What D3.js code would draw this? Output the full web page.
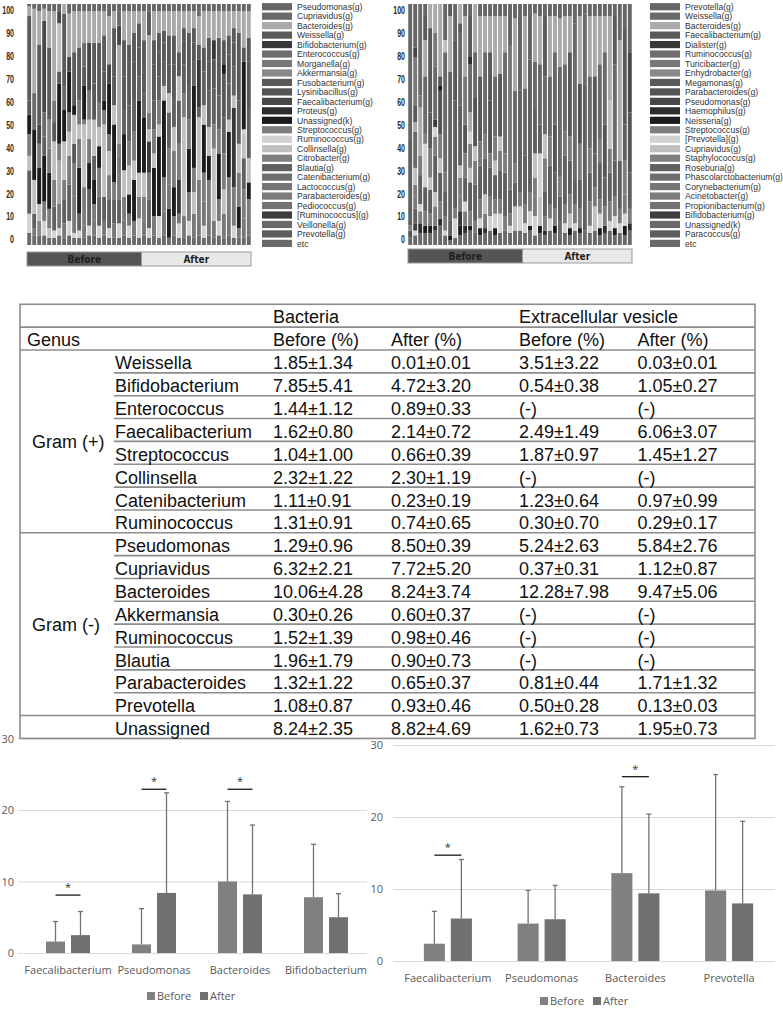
<!DOCTYPE html>
<html>
<head>
<meta charset="utf-8">
<script src="https://cdn.jsdelivr.net/npm/d3@7"></script>
<style>
  body { margin: 0; background: #fff; }
  svg { display: block; }
</style>
</head>
<body>
<svg id="fig" width="783" height="1009"></svg>
<script>
// ---------------- data ----------------
// grey shades of the legend swatches, by legend position
const grayPalette = ["#666666","#6a6a6a","#aaaaaa","#5a5a5a","#383838","#6e6e6e","#787878","#888888",
  "#595959","#555555","#474747","#2d2d2d","#1c1c1c","#7d7d7d","#d2d2d2","#c0c0c0","#7e7e7e","#606060",
  "#6e6e6e","#747474","#7c7c7c","#727272","#3e3e3e","#696969","#5c5c5c","#6a6a6a"];

const genusLeft = ["Pseudomonas(g)","Cupriavidus(g)","Bacteroides(g)","Weissella(g)","Bifidobacterium(g)",
  "Enterococcus(g)","Morganella(g)","Akkermansia(g)","Fusobacterium(g)","Lysinibacillus(g)","Faecalibacterium(g)",
  "Proteus(g)","Unassigned(k)","Streptococcus(g)","Ruminococcus(g)","Collinsella(g)","Citrobacter(g)","Blautia(g)",
  "Catenibacterium(g)","Lactococcus(g)","Parabacteroides(g)","Pediococcus(g)","[Ruminococcus](g)","Veillonella(g)",
  "Prevotella(g)","etc"];

const genusRight = ["Prevotella(g)","Weissella(g)","Bacteroides(g)","Faecalibacterium(g)","Dialister(g)",
  "Ruminococcus(g)","Turicibacter(g)","Enhydrobacter(g)","Megamonas(g)","Parabacteroides(g)","Pseudomonas(g)",
  "Haemophilus(g)","Neisseria(g)","Streptococcus(g)","[Prevotella](g)","Cupriavidus(g)","Staphylococcus(g)",
  "Roseburia(g)","Phascolarctobacterium(g)","Corynebacterium(g)","Acinetobacter(g)","Propionibacterium(g)",
  "Bifidobacterium(g)","Unassigned(k)","Paracoccus(g)","etc"];

const stackTicks = [0,10,20,30,40,50,60,70,80,90,100];
const periods = ["Before","After"];
const nBeforeLeft = 23;
const nBeforeRight = 23;

// per sample: [genus index, percent], read bottom to top
const samplesLeft = [
  [[25,5],[14,8],[17,18],[15,6],[20,9],[12,8],[8,6],[3,35],[2,4],[0,1]],
  [[25,4],[6,3],[17,6],[15,14],[12,21],[1,15],[2,35],[0,2]],
  [[25,4],[7,6],[15,7],[12,15],[20,10],[10,8],[3,33],[2,14],[0,3]],
  [[25,4],[14,6],[6,8],[12,19],[17,8],[1,10],[10,38],[2,5],[0,2]],
  [[25,3],[15,4],[20,8],[12,15],[6,10],[7,12],[3,30],[2,15],[0,3]],
  [[25,3],[14,3],[17,10],[20,11],[15,16],[8,8],[6,9],[2,37],[0,3]],
  [[25,4],[14,3],[6,10],[2,18],[13,7],[12,25],[8,5],[15,20],[10,5],[0,3]],
  [[25,3],[6,6],[17,10],[20,8],[15,16],[12,13],[1,10],[3,30],[2,4]],
  [[25,4],[14,6],[17,15],[20,12],[15,10],[13,8],[12,17],[10,6],[2,18],[0,4]],
  [[25,3],[14,2],[6,15],[20,14],[8,8],[15,12],[12,4],[3,22],[2,17],[0,3]],
  [[25,3],[14,3],[17,7],[12,19],[20,12],[15,6],[6,10],[3,22],[2,15],[0,3]],
  [[25,3],[6,5],[20,16],[15,26],[13,2],[12,14],[8,8],[1,10],[2,13],[0,3]],
  [[25,4],[14,4],[17,15],[12,11],[20,10],[15,8],[6,12],[10,20],[2,13],[0,3]],
  [[25,4],[6,6],[20,7],[12,10],[17,10],[15,15],[8,15],[3,17],[2,13],[0,3]],
  [[25,3],[14,5],[17,12],[20,12],[12,9],[15,8],[6,10],[3,25],[2,13],[0,3]],
  [[25,4],[6,6],[17,10],[15,30],[20,6],[12,4],[8,12],[3,15],[2,10],[0,3]],
  [[25,3],[14,4],[17,12],[20,10],[15,10],[6,7],[12,21],[10,8],[2,20],[0,5]],
  [[25,3],[6,6],[17,10],[20,7],[12,24],[15,8],[8,12],[3,20],[2,7],[0,3]],
  [[25,3],[14,6],[17,10],[20,10],[6,8],[13,5],[2,41],[10,8],[1,6],[0,3]],
  [[25,4],[6,6],[20,10],[15,11],[12,15],[17,10],[8,14],[3,15],[2,12],[0,3]],
  [[25,3],[14,5],[6,5],[12,8],[15,12],[20,10],[17,15],[3,25],[2,14],[0,3]],
  [[25,4],[6,6],[12,17],[15,8],[20,12],[17,14],[8,15],[3,12],[2,9],[0,3]],
  [[25,3],[14,8],[20,9],[15,10],[12,30],[17,10],[8,12],[3,10],[2,5],[0,3]],
  [[25,4],[6,6],[20,10],[15,10],[12,23],[17,10],[8,10],[3,12],[2,12],[0,3]],
  [[25,3],[14,4],[17,12],[20,11],[4,13],[15,5],[6,7],[2,32],[3,10],[0,3]],
  [[25,4],[6,8],[12,20],[15,6],[20,10],[17,12],[8,15],[3,10],[2,12],[0,3]],
  [[25,3],[14,9],[12,33],[15,5],[20,10],[17,10],[8,10],[3,8],[2,9],[0,3]],
  [[25,4],[6,10],[20,14],[12,32],[15,6],[17,10],[8,8],[3,5],[2,8],[0,3]],
  [[25,3],[12,12],[6,10],[20,15],[17,15],[15,8],[8,12],[3,12],[2,10],[0,3]],
  [[25,4],[6,8],[12,12],[20,15],[15,10],[17,12],[8,14],[3,12],[2,10],[0,3]],
  [[25,3],[14,6],[6,4],[4,14],[20,15],[17,18],[15,10],[8,10],[2,17],[0,3]],
  [[25,3],[6,9],[15,41],[20,10],[17,12],[8,10],[3,5],[2,7],[0,3]],
  [[25,4],[14,6],[6,12],[12,18],[20,12],[17,14],[8,12],[3,10],[2,9],[0,3]],
  [[25,3],[6,10],[15,9],[20,10],[12,34],[17,10],[8,8],[3,6],[2,7],[0,3]],
  [[25,4],[6,8],[20,15],[15,26],[17,4],[4,20],[8,6],[2,12],[1,2],[0,3]],
  [[25,3],[14,5],[6,10],[20,12],[12,20],[15,8],[17,14],[8,10],[2,15],[0,3]],
  [[25,4],[6,8],[20,15],[12,10],[15,12],[17,15],[8,12],[3,10],[2,11],[0,3]],
  [[25,3],[6,7],[15,30],[20,10],[17,15],[8,12],[4,8],[2,12],[0,3]],
  [[25,4],[14,6],[6,9],[12,19],[20,10],[17,14],[8,14],[3,10],[2,11],[0,3]],
  [[25,3],[6,10],[15,10],[20,15],[17,15],[8,18],[12,4],[3,10],[2,12],[0,3]],
  [[25,4],[6,8],[20,16],[12,19],[15,5],[17,15],[8,12],[3,8],[2,10],[0,3]],
  [[25,3],[14,5],[20,16],[4,33],[15,5],[17,12],[8,10],[3,6],[2,7],[0,3]],
  [[25,3],[6,4],[12,9],[20,14],[15,12],[17,18],[8,18],[3,10],[2,9],[0,3]],
  [[25,3],[6,8],[20,12],[17,13],[15,10],[14,2],[12,28],[8,6],[2,15],[0,3]],
  [[25,4],[6,8],[20,7],[12,7],[15,10],[17,20],[8,20],[3,10],[2,11],[0,3]]
];

const samplesRight = [
  [[25,3],[9,3],[20,2],[17,36],[0,56]],
  [[25,4],[14,2],[22,3],[17,6],[20,5],[13,5],[15,7],[1,15],[2,4],[3,7],[6,20],[10,4],[0,18]],
  [[25,5],[11,4],[20,5],[14,3],[17,12],[13,8],[2,20],[6,5],[1,38]],
  [[25,5],[12,3],[20,6],[17,10],[14,18],[13,4],[1,24],[2,15],[3,10],[0,5]],
  [[25,5],[12,3],[20,5],[17,10],[15,5],[13,12],[8,15],[3,35],[2,10]],
  [[25,6],[11,2],[20,8],[15,6],[17,15],[13,8],[14,4],[4,3],[1,22],[6,14],[2,12]],
  [[25,8],[11,3],[20,7],[17,12],[15,6],[13,10],[9,18],[12,2],[8,4],[2,30]],
  [[25,4],[14,2],[20,6],[17,10],[6,8],[1,50],[15,5],[0,15]],
  [[25,2],[12,2],[17,6],[0,62],[2,23],[3,5]],
  [[25,3],[14,8],[20,4],[17,45],[3,25],[0,15]],
  [[25,4],[12,4],[4,6],[20,6],[13,8],[15,5],[17,25],[1,30],[3,4],[2,8]],
  [[25,5],[11,3],[20,6],[14,4],[17,10],[13,10],[9,12],[6,20],[2,25],[0,5]],
  [[25,6],[12,2],[20,6],[17,12],[15,6],[13,10],[14,5],[2,8],[1,20],[11,3],[3,17],[0,5]],
  [[25,5],[20,5],[17,15],[13,10],[15,6],[9,20],[1,19],[2,20]],
  [[25,4],[12,3],[14,4],[20,8],[17,14],[6,10],[3,27],[2,25],[0,5]],
  [[25,5],[11,2],[20,6],[15,8],[17,15],[13,10],[1,34],[2,15],[0,5]],
  [[25,6],[14,6],[20,8],[17,12],[13,6],[9,22],[3,20],[2,15],[0,5]],
  [[25,4],[12,3],[14,6],[20,6],[17,10],[15,6],[13,10],[1,25],[2,25],[0,5]],
  [[25,5],[14,8],[20,6],[17,12],[13,8],[15,6],[3,26],[2,24],[0,5]],
  [[25,6],[20,6],[17,18],[13,8],[1,42],[2,15],[0,5]],
  [[25,5],[14,3],[20,5],[17,10],[6,60],[0,17]],
  [[25,6],[15,10],[17,10],[13,8],[1,30],[2,30],[0,6]],
  [[25,6],[14,10],[20,6],[17,42],[0,36]],
  [[25,5],[14,4],[20,8],[17,20],[1,28],[2,30],[0,5]],
  [[25,6],[12,2],[14,6],[20,8],[17,55],[0,23]],
  [[25,4],[14,8],[20,8],[13,8],[15,10],[17,18],[1,20],[2,20],[0,4]],
  [[25,5],[12,3],[15,12],[14,18],[17,12],[1,25],[2,20],[0,5]],
  [[25,4],[11,2],[20,6],[17,10],[13,14],[15,10],[1,24],[3,25],[0,5]],
  [[25,6],[14,5],[20,6],[17,16],[13,12],[1,25],[2,25],[0,5]],
  [[25,5],[12,3],[20,7],[17,15],[9,20],[1,30],[2,15],[0,5]],
  [[25,10],[17,10],[13,8],[1,46],[2,20],[0,6]],
  [[25,5],[14,4],[20,8],[17,20],[6,10],[1,28],[2,20],[0,5]],
  [[25,4],[12,3],[15,6],[20,8],[17,14],[13,10],[3,35],[2,15],[0,5]],
  [[25,6],[14,3],[20,8],[17,10],[1,65],[0,8]],
  [[25,5],[12,2],[20,8],[17,12],[13,15],[9,25],[2,28],[0,5]],
  [[25,6],[17,60],[1,30],[0,4]],
  [[25,5],[14,3],[20,10],[17,12],[13,10],[1,30],[2,25],[0,5]],
  [[25,6],[15,10],[20,8],[17,14],[3,32],[2,25],[0,5]],
  [[25,4],[12,3],[14,6],[20,6],[17,15],[13,10],[1,31],[2,20],[0,5]],
  [[25,5],[11,3],[20,8],[17,12],[9,22],[1,30],[2,15],[0,5]],
  [[25,6],[14,4],[20,8],[17,12],[13,10],[15,20],[2,35],[0,5]],
  [[25,4],[12,3],[14,5],[20,8],[17,15],[1,40],[3,20],[0,5]],
  [[25,5],[14,4],[20,6],[17,20],[2,50],[1,10],[0,5]],
  [[25,4],[12,4],[14,5],[20,8],[13,14],[17,15],[3,40],[0,10]],
  [[25,6],[11,3],[20,6],[17,15],[9,25],[10,25],[0,20]]
];

// table
const tableHead1 = ["", "", "Bacteria", "", "Extracellular vesicle", ""];
const tableHead2 = ["Genus", "", "Before (%)", "After (%)", "Before (%)", "After (%)"];
const gramGroups = [["Gram (+)", 0, 8], ["Gram (-)", 8, 16]];
const tableRows = [
  ["Weissella", "1.85±1.34", "0.01±0.01", "3.51±3.22", "0.03±0.01"],
  ["Bifidobacterium", "7.85±5.41", "4.72±3.20", "0.54±0.38", "1.05±0.27"],
  ["Enterococcus", "1.44±1.12", "0.89±0.33", "(-)", "(-)"],
  ["Faecalibacterium", "1.62±0.80", "2.14±0.72", "2.49±1.49", "6.06±3.07"],
  ["Streptococcus", "1.04±1.00", "0.66±0.39", "1.87±0.97", "1.45±1.27"],
  ["Collinsella", "2.32±1.22", "2.30±1.19", "(-)", "(-)"],
  ["Catenibacterium", "1.11±0.91", "0.23±0.19", "1.23±0.64", "0.97±0.99"],
  ["Ruminococcus", "1.31±0.91", "0.74±0.65", "0.30±0.70", "0.29±0.17"],
  ["Pseudomonas", "1.29±0.96", "8.50±0.39", "5.24±2.63", "5.84±2.76"],
  ["Cupriavidus", "6.32±2.21", "7.72±5.20", "0.37±0.31", "1.12±0.87"],
  ["Bacteroides", "10.06±4.28", "8.24±3.74", "12.28±7.98", "9.47±5.06"],
  ["Akkermansia", "0.30±0.26", "0.60±0.37", "(-)", "(-)"],
  ["Ruminococcus", "1.52±1.39", "0.98±0.46", "(-)", "(-)"],
  ["Blautia", "1.96±1.79", "0.90±0.73", "(-)", "(-)"],
  ["Parabacteroides", "1.32±1.22", "0.65±0.37", "0.81±0.44", "1.71±1.32"],
  ["Prevotella", "1.08±0.87", "0.93±0.46", "0.50±0.28", "0.13±0.03"],
  ["Unassigned", "8.24±2.35", "8.82±4.69", "1.62±0.73", "1.95±0.73"]
];

// bottom bar charts (bar height and error bar length)
const barTicks = [0, 10, 20, 30];
const barGenusLeft = ["Faecalibacterium", "Pseudomonas", "Bacteroides", "Bifidobacterium"];
const beforeLeft = [1.6, 1.2, 10.0, 7.8];
const afterLeft = [2.5, 8.4, 8.2, 5.0];
const beforeErrLeft = [2.8, 5.0, 11.2, 7.4];
const afterErrLeft = [3.3, 14.0, 9.7, 3.3];
const sigLeft = [["Faecalibacterium", 8.1], ["Pseudomonas", 22.9], ["Bacteroides", 22.9]];

const barGenusRight = ["Faecalibacterium", "Pseudomonas", "Bacteroides", "Prevotella"];
const beforeRight = [2.4, 5.2, 12.2, 9.8];
const afterRight = [5.9, 5.8, 9.4, 8.0];
const beforeErrRight = [4.5, 4.6, 12.0, 16.1];
const afterErrRight = [8.2, 4.7, 11.0, 11.4];
const sigRight = [["Faecalibacterium", 14.7], ["Bacteroides", 25.6]];

// ---------------- drawing ----------------
const svg = d3.select("#fig");
svg.append("rect").attr("width", 783).attr("height", 1009).attr("fill", "#fff");

const narrow = "'Liberation Sans Narrow', 'DejaVu Sans Condensed', 'Liberation Sans', sans-serif";
const arial = "'Liberation Sans', Arial, sans-serif";
const excel = "'Open Sans', 'Noto Sans', sans-serif";

function stackChart(samples, genus, nBefore, x0, x1, labelRight, legendX, boxY) {
  const g = svg.append("g");
  const x = d3.scaleBand().domain(d3.range(samples.length)).range([x0, x1]).paddingInner(0.22).paddingOuter(0.05);
  const y = d3.scaleLinear().domain([0, 100]).range([245, 4]);

  samples.forEach((segs, i) => {
    const tops = Array.from(d3.cumsum(segs, s => s[1]));
    g.append("g").selectAll("rect").data(segs).join("rect")
      .attr("x", x(i))
      .attr("width", x.bandwidth())
      .attr("y", (s, j) => y(tops[j]))
      .attr("height", (s, j) => y(tops[j] - s[1]) - y(tops[j]))
      .attr("fill", s => grayPalette[s[0]]);
  });

  // y labels (no axis line), squeezed like the condensed original
  const yl = d3.scaleLinear().domain([0, 100]).range([239.5, 10.5]);
  const ax = svg.append("g").attr("transform", `translate(${labelRight},0)`)
    .call(d3.axisLeft(yl).tickValues(stackTicks).tickSize(0).tickPadding(0));
  ax.select(".domain").remove();
  ax.selectAll("text").attr("font-family", arial).attr("font-weight", "bold")
    .attr("font-size", 10.5).attr("fill", "#2a2a2a")
    .attr("textLength", d => String(d).length * 3.9).attr("lengthAdjust", "spacingAndGlyphs");

  // Before / After strip
  const strip = d3.scaleLinear().domain([0, samples.length]).range([x0, x1]);
  const parts = [[periods[0], 0, nBefore, "#555555"], [periods[1], nBefore, samples.length, "#e8e8e8"]];
  const sg = svg.append("g");
  sg.selectAll("rect").data(parts).join("rect")
    .attr("x", d => strip(d[1])).attr("width", d => strip(d[2]) - strip(d[1]))
    .attr("y", boxY).attr("height", 14)
    .attr("fill", d => d[3]).attr("stroke", "#9a9a9a").attr("stroke-width", 1);
  sg.selectAll("text").data(parts).join("text")
    .attr("x", d => (strip(d[1]) + strip(d[2])) / 2).attr("y", boxY + 10.5)
    .attr("text-anchor", "middle").attr("font-family", narrow).attr("font-weight", "bold")
    .attr("font-size", 10).attr("fill", "#1e1e1e").text(d => d[0]);

  // legend
  const ly = d3.scaleLinear().domain([0, genus.length - 1]).range([6.7, 243.4]);
  const lg = svg.append("g");
  lg.selectAll("rect").data(genus).join("rect")
    .attr("x", legendX).attr("width", 30)
    .attr("y", (d, i) => ly(i) - 3.6).attr("height", 7.2)
    .attr("fill", (d, i) => grayPalette[i]);
  lg.selectAll("text").data(genus).join("text")
    .attr("x", legendX + 35).attr("y", (d, i) => ly(i) + 3.2)
    .attr("font-family", arial).attr("font-size", 8.6).attr("fill", "#333")
    .text(d => d);
}

stackChart(samplesLeft, genusLeft, nBeforeLeft, 27, 251, 14, 262, 252);
stackChart(samplesRight, genusRight, nBeforeRight, 408, 632, 405, 650, 249);

function barChart(o) {
  const g = svg.append("g");
  const x = d3.scaleBand().domain(o.genus).range(o.xr);
  const y = d3.scaleLinear().domain([0, 30]).range(o.yr);
  const xs = d3.scaleBand().domain(periods)
    .range([x.bandwidth() / 2 - o.step, x.bandwidth() / 2 + o.step])
    .paddingInner(o.pad).paddingOuter(o.pad / 2);

  const ax = g.append("g").attr("transform", `translate(${o.plot[0]},0)`)
    .call(d3.axisLeft(y).tickValues(barTicks).tickSize(-(o.plot[1] - o.plot[0])).tickPadding(o.labelPad));
  ax.select(".domain").remove();
  ax.selectAll("line").attr("stroke", "#d9d9d9").attr("stroke-width", 1);
  ax.selectAll("text").attr("font-family", excel).attr("font-size", 11).attr("fill", "#595959");

  const rows = o.genus.map((k, i) => ({ k, vals: [[periods[0], o.before[i], o.beforeErr[i]], [periods[1], o.after[i], o.afterErr[i]]] }));
  const fills = { Before: "#808080", After: "#707070" };
  const grp = g.selectAll("g.genus").data(rows).join("g").attr("class", "genus")
    .attr("transform", d => `translate(${x(d.k)},0)`);
  grp.selectAll("rect").data(d => d.vals).join("rect")
    .attr("x", d => xs(d[0])).attr("width", xs.bandwidth())
    .attr("y", d => y(d[1])).attr("height", d => y(0) - y(d[1]))
    .attr("fill", d => fills[d[0]]);
  // error bars (upper only)
  grp.selectAll("line.err").data(d => d.vals).join("line").attr("class", "err")
    .attr("x1", d => xs(d[0]) + xs.bandwidth() / 2).attr("x2", d => xs(d[0]) + xs.bandwidth() / 2)
    .attr("y1", d => y(d[1])).attr("y2", d => y(d[1] + d[2]))
    .attr("stroke", "#737373").attr("stroke-width", 1.3);
  grp.selectAll("line.cap").data(d => d.vals).join("line").attr("class", "cap")
    .attr("x1", d => xs(d[0]) + xs.bandwidth() / 2 - 2.5).attr("x2", d => xs(d[0]) + xs.bandwidth() / 2 + 2.5)
    .attr("y1", d => y(d[1] + d[2])).attr("y2", d => y(d[1] + d[2]))
    .attr("stroke", "#737373").attr("stroke-width", 1.3);

  // category labels
  g.selectAll("text.cat").data(o.genus).join("text").attr("class", "cat")
    .attr("x", d => x(d) + x.bandwidth() / 2).attr("y", o.catY)
    .attr("text-anchor", "middle").attr("font-family", excel).attr("font-size", 11).attr("fill", "#595959")
    .text(d => d);

  // significance marks
  const cx = (k, p) => x(k) + xs(p) + xs.bandwidth() / 2;
  const sg = g.selectAll("g.sig").data(o.sig).join("g").attr("class", "sig");
  sg.append("line")
    .attr("x1", d => cx(d[0], periods[0])).attr("x2", d => cx(d[0], periods[1]))
    .attr("y1", d => y(d[1])).attr("y2", d => y(d[1]))
    .attr("stroke", "#1a1a1a").attr("stroke-width", 1.3);
  sg.append("text")
    .attr("x", d => (cx(d[0], periods[0]) + cx(d[0], periods[1])) / 2).attr("y", d => y(d[1]) - 4)
    .attr("text-anchor", "middle").attr("font-family", excel).attr("font-size", 11).attr("fill", "#333")
    .text("*");

  // legend
  const lx = d3.scalePoint().domain(periods).range([o.legendX, o.legendX + 53]);
  const lg = g.selectAll("g.leg").data(periods).join("g").attr("class", "leg")
    .attr("transform", d => `translate(${lx(d)},${o.legendY})`);
  lg.append("rect").attr("x", 0).attr("y", -8).attr("width", 8).attr("height", 8).attr("fill", d => fills[d]);
  lg.append("text").attr("x", 10).attr("y", 0).attr("font-family", excel).attr("font-size", 11)
    .attr("fill", "#595959").text(d => d);
}

barChart({
  genus: barGenusLeft, before: beforeLeft, after: afterLeft, beforeErr: beforeErrLeft, afterErr: afterErrLeft,
  sig: sigLeft, xr: [25, 369], yr: [953, 738.5], step: 25, pad: 0.24, plot: [18, 367], labelPad: 4,
  catY: 974, legendX: 147, legendY: 1000
});
barChart({
  genus: barGenusRight, before: beforeRight, after: afterRight, beforeErr: beforeErrRight, afterErr: afterErrRight,
  sig: sigRight, xr: [401, 776], yr: [961, 745], step: 27, pad: 0.22, plot: [393, 775], labelPad: 10,
  catY: 982, legendX: 540, legendY: 1005
});

// ---------------- table ----------------
const tg = svg.append("g");
const ry = d3.scaleLinear().domain([-2, 17]).range([304.3, 738.4]);
const colX = d3.scaleOrdinal().domain([0, 1, 2, 3, 4, 5]).range([27, 115, 273, 391, 519, 637.5]);
const tLeft = 20, tRight = 755, nameLeft = 114;
const lineColor = "#8c8c8c";

tg.append("rect").attr("x", tLeft).attr("y", ry(-2)).attr("width", tRight - tLeft).attr("height", ry(17) - ry(-2))
  .attr("fill", "none").attr("stroke", lineColor).attr("stroke-width", 1.6);

const fullLines = [-1, 0, 8, 16];
tg.selectAll("line.full").data(fullLines).join("line").attr("class", "full")
  .attr("x1", tLeft).attr("x2", tRight).attr("y1", d => ry(d)).attr("y2", d => ry(d))
  .attr("stroke", lineColor).attr("stroke-width", 1.6);
const partLines = d3.range(1, 16).filter(i => i !== 8);
tg.selectAll("line.part").data(partLines).join("line").attr("class", "part")
  .attr("x1", nameLeft).attr("x2", tRight).attr("y1", d => ry(d)).attr("y2", d => ry(d))
  .attr("stroke", lineColor).attr("stroke-width", 1.6);

const tfont = (sel) => sel.attr("font-family", arial).attr("font-size", 18).attr("fill", "#111");
[tableHead1, tableHead2].forEach((row, r) => {
  tg.append("g").selectAll("text").data(row).join("text")
    .attr("x", (d, i) => colX(i)).attr("y", ry(r - 2) + 19)
    .call(tfont).text(d => d);
});
tableRows.forEach((row, r) => {
  tg.append("g").selectAll("text").data(row).join("text")
    .attr("x", (d, i) => colX(i + 1)).attr("y", ry(r) + 19.5)
    .call(tfont).text(d => d);
});
tg.selectAll("text.gram").data(gramGroups).join("text").attr("class", "gram")
  .attr("x", 32).attr("y", d => (ry(d[1]) + ry(d[2])) / 2 + 6.5)
  .call(tfont).text(d => d[0]);
</script>
</body>
</html>
